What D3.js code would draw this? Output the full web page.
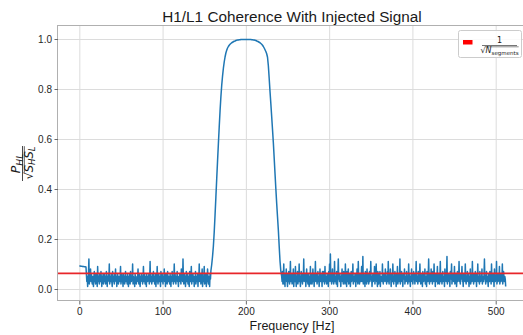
<!DOCTYPE html>
<html lang="en">
<head>
<meta charset="utf-8">
<title>H1/L1 Coherence With Injected Signal</title>
<script src="https://cdn.jsdelivr.net/npm/d3@7"></script>
<style>
  body { margin: 0; background: #fff; }
  svg { font-family: "Liberation Sans", Arial, sans-serif; display: block; }
</style>
</head>
<body>
<svg id="chart"></svg>
<script>
// coherence values; each band has its own start and bin width (Hz)
const leadStart = 0, leadStep = 1;   // 0 .. 8 Hz
const leadBand = [0.092, 0.092, 0.091, 0.091, 0.090, 0.090, 0.089, 0.089, 0.088];

const lowStart = 9, lowStep = 0.5;   // 9 .. 157.5 Hz
const lowBand = [
  0.03,0.05,0.01,0.04,0.06,0.12,0.02,0.05,0.04,0.08,0.03,0.06,0.04,0.02,0.05,0.03,0.01,0.05,0.07,0.03,
  0.04,0.02,0.06,0.03,0.05,0.01,0.09,0.04,0.03,0.05,0.02,0.06,0.04,0.03,0.07,0.04,0.01,0.05,0.03,0.06,
  0.02,0.04,0.06,0.03,0.05,0.02,0.04,0.07,0.04,0.01,0.05,0.03,0.06,0.04,0.10,0.02,0.04,0.05,0.03,0.06,
  0.03,0.01,0.07,0.04,0.03,0.05,0.02,0.06,0.04,0.08,0.03,0.05,0.01,0.04,0.06,0.03,0.02,0.05,0.04,0.03,
  0.05,0.09,0.02,0.04,0.06,0.03,0.04,0.01,0.06,0.04,0.05,0.02,0.04,0.07,0.03,0.05,0.04,0.02,0.06,0.03,
  0.01,0.05,0.04,0.06,0.02,0.07,0.04,0.03,0.05,0.04,0.10,0.02,0.05,0.03,0.04,0.01,0.06,0.04,0.05,0.02,
  0.04,0.03,0.05,0.08,0.04,0.02,0.06,0.04,0.01,0.05,0.03,0.06,0.04,0.05,0.02,0.04,0.09,0.03,0.04,0.06,
  0.02,0.05,0.04,0.01,0.06,0.04,0.03,0.05,0.04,0.06,0.02,0.04,0.11,0.03,0.05,0.04,0.02,0.06,0.04,0.03,
  0.07,0.04,0.05,0.02,0.04,0.06,0.01,0.05,0.03,0.09,0.04,0.02,0.04,0.06,0.03,0.05,0.04,0.01,0.07,0.04,
  0.03,0.06,0.04,0.02,0.05,0.04,0.08,0.03,0.05,0.01,0.06,0.04,0.05,0.02,0.07,0.04,0.03,0.05,0.04,0.02,
  0.06,0.04,0.01,0.05,0.03,0.07,0.04,0.05,0.02,0.04,0.10,0.03,0.06,0.04,0.02,0.05,0.04,0.07,0.03,0.04,
  0.01,0.05,0.04,0.06,0.03,0.04,0.02,0.08,0.04,0.05,0.03,0.12,0.04,0.02,0.06,0.04,0.05,0.01,0.04,0.07,
  0.03,0.04,0.06,0.02,0.05,0.04,0.01,0.07,0.04,0.03,0.05,0.09,0.02,0.04,0.04,0.06,0.03,0.05,0.01,0.04,
  0.04,0.07,0.02,0.05,0.03,0.04,0.06,0.01,0.05,0.04,0.10,0.03,0.04,0.06,0.02,0.05,0.04,0.08,0.01,0.04,
  0.03,0.05,0.09,0.02,0.04,0.04,0.06,0.01,0.05,0.03,0.08,0.04,0.02,0.05,0.03,0.01,0.06,0.04
];

const signalStart = 158, signalStep = 1;   // 158 .. 242 Hz
const signalBand = [
  0.072, 0.098, 0.131, 0.172, 0.228, 0.296, 0.368, 0.441, 0.512, 0.581,
  0.648, 0.712, 0.768, 0.815, 0.852, 0.883, 0.908, 0.928, 0.944, 0.955,
  0.964, 0.970, 0.975, 0.979, 0.982, 0.985, 0.987, 0.989, 0.991, 0.992,
  0.994, 0.995, 0.996, 0.996, 0.997, 0.997, 0.998,
  0.998, 0.998, 0.998, 0.998, 0.998, 0.998, 0.998, 0.998, 0.998, 0.998, 0.998,
  0.998, 0.997, 0.997, 0.996, 0.996, 0.995, 0.994, 0.992, 0.991, 0.989,
  0.987, 0.985, 0.982, 0.979, 0.975, 0.970, 0.964, 0.957, 0.950, 0.941,
  0.927, 0.893, 0.843, 0.790, 0.741, 0.690, 0.638, 0.585, 0.524, 0.462,
  0.401, 0.343, 0.289, 0.236, 0.172, 0.112, 0.071
];

const highStart = 243, highStep = 0.5;   // 243 .. 512 Hz
const highBand = [
  0.05,0.03,0.07,0.02,0.04,0.10,0.02,0.05,0.01,0.06,0.04,0.08,0.03,0.04,0.01,0.06,0.03,0.07,0.04,0.02,
  0.05,0.11,0.03,0.04,0.06,0.02,0.04,0.04,0.08,0.01,0.04,0.06,0.03,0.09,0.04,0.01,0.05,0.04,0.07,0.02,
  0.04,0.03,0.10,0.03,0.05,0.01,0.04,0.07,0.03,0.05,0.02,0.06,0.04,0.12,0.03,0.04,0.04,0.06,0.01,0.05,
  0.08,0.03,0.05,0.02,0.06,0.04,0.01,0.05,0.03,0.09,0.02,0.04,0.06,0.02,0.04,0.08,0.03,0.05,0.01,0.06,
  0.04,0.11,0.03,0.04,0.06,0.02,0.04,0.07,0.03,0.05,0.01,0.04,0.08,0.03,0.06,0.04,0.05,0.01,0.07,0.04,
  0.03,0.07,0.05,0.02,0.09,0.03,0.05,0.04,0.02,0.06,0.04,0.05,0.01,0.07,0.04,0.10,0.03,0.14,0.04,0.05,
  0.02,0.05,0.08,0.03,0.06,0.02,0.04,0.11,0.03,0.05,0.04,0.02,0.07,0.04,0.01,0.06,0.12,0.04,0.05,0.03,
  0.06,0.04,0.01,0.05,0.04,0.08,0.03,0.05,0.02,0.07,0.04,0.06,0.02,0.10,0.04,0.05,0.01,0.07,0.04,0.03,
  0.08,0.02,0.05,0.04,0.06,0.01,0.04,0.07,0.03,0.05,0.04,0.10,0.02,0.05,0.04,0.03,0.06,0.04,0.01,0.06,
  0.03,0.08,0.04,0.02,0.11,0.04,0.05,0.02,0.06,0.04,0.03,0.05,0.09,0.03,0.04,0.13,0.02,0.06,0.04,0.05,
  0.01,0.07,0.04,0.05,0.02,0.08,0.04,0.03,0.06,0.02,0.04,0.07,0.03,0.04,0.11,0.04,0.05,0.01,0.04,0.06,
  0.03,0.05,0.04,0.09,0.02,0.05,0.04,0.10,0.03,0.04,0.01,0.07,0.04,0.02,0.06,0.04,0.07,0.01,0.05,0.04,
  0.05,0.03,0.10,0.04,0.02,0.06,0.04,0.05,0.03,0.08,0.04,0.05,0.02,0.04,0.07,0.03,0.11,0.04,0.02,0.06,
  0.04,0.08,0.04,0.01,0.06,0.04,0.03,0.10,0.04,0.02,0.05,0.04,0.07,0.03,0.04,0.01,0.06,0.04,0.09,0.02,
  0.04,0.06,0.03,0.05,0.12,0.02,0.04,0.04,0.07,0.03,0.05,0.01,0.06,0.04,0.04,0.08,0.02,0.05,0.04,0.03,
  0.07,0.04,0.05,0.02,0.04,0.10,0.03,0.06,0.04,0.01,0.05,0.04,0.08,0.03,0.06,0.02,0.04,0.07,0.04,0.05,
  0.02,0.06,0.04,0.11,0.03,0.04,0.05,0.02,0.07,0.04,0.03,0.05,0.10,0.04,0.02,0.06,0.04,0.05,0.01,0.07,
  0.04,0.03,0.06,0.04,0.08,0.02,0.05,0.04,0.01,0.07,0.04,0.03,0.05,0.12,0.04,0.02,0.06,0.04,0.03,0.08,
  0.04,0.05,0.02,0.07,0.04,0.03,0.10,0.04,0.05,0.01,0.06,0.04,0.03,0.05,0.09,0.02,0.04,0.06,0.04,0.02,
  0.05,0.11,0.03,0.04,0.06,0.02,0.04,0.07,0.04,0.03,0.05,0.01,0.08,0.04,0.05,0.03,0.06,0.13,0.02,0.04,
  0.04,0.06,0.03,0.05,0.01,0.07,0.04,0.04,0.10,0.02,0.05,0.04,0.06,0.03,0.04,0.09,0.02,0.05,0.04,0.06,
  0.01,0.04,0.07,0.03,0.05,0.04,0.11,0.03,0.04,0.02,0.06,0.04,0.05,0.09,0.03,0.04,0.01,0.06,0.04,0.05,
  0.03,0.10,0.04,0.02,0.05,0.04,0.07,0.03,0.06,0.04,0.01,0.05,0.04,0.08,0.02,0.04,0.06,0.03,0.11,0.04,
  0.05,0.02,0.06,0.04,0.03,0.07,0.04,0.05,0.01,0.06,0.04,0.10,0.03,0.05,0.04,0.02,0.07,0.04,0.03,0.05,
  0.04,0.08,0.02,0.05,0.04,0.03,0.06,0.12,0.04,0.05,0.02,0.04,0.07,0.03,0.05,0.04,0.01,0.06,0.04,0.03,
  0.07,0.04,0.05,0.02,0.10,0.04,0.03,0.06,0.04,0.05,0.01,0.08,0.04,0.03,0.05,0.04,0.11,0.02,0.04,0.06,
  0.03,0.05,0.04,0.09,0.02,0.04,0.06,0.03,0.05,0.04,0.10,0.02,0.04,0.07,0.04,0.03,0.05,0.04,0.01
];

const xTicks = [0, 100, 200, 300, 400, 500];
const yTicks = [0.0, 0.2, 0.4, 0.6, 0.8, 1.0];
const nSegments = 256;

const W = 523, H = 335;
const margins = { left: 58, top: 26, right: -4, bottom: 34 };
const plotW = W - margins.left - margins.right;   // runs past the right edge, like the cropped figure
const plotH = H - margins.top - margins.bottom;

const svg = d3.select("#chart").attr("width", W).attr("height", H);

// flatten the bands into (freq, value) points
const bands = [
  [leadStart, leadStep, leadBand],
  [lowStart, lowStep, lowBand],
  [signalStart, signalStep, signalBand],
  [highStart, highStep, highBand]
];
const points = [];
bands.forEach(([start, step, vals]) => vals.forEach((v, i) => points.push({ f: start + i * step, c: v })));

const xScale = d3.scaleLinear().domain([-25.6, 537.6]).range([margins.left, margins.left + plotW]);
const yScale = d3.scaleLinear().domain([-0.048, 1.052]).range([margins.top + plotH, margins.top]);

// grid
const gx = svg.append("g")
  .attr("transform", "translate(0," + (margins.top + plotH) + ")")
  .call(d3.axisBottom(xScale).tickValues(xTicks).tickSize(-plotH).tickFormat(""));
const gy = svg.append("g")
  .attr("transform", "translate(" + margins.left + ",0)")
  .call(d3.axisLeft(yScale).tickValues(yTicks).tickSize(-plotW).tickFormat(""));
[gx, gy].forEach(g => {
  g.select(".domain").remove();
  g.selectAll("line").attr("stroke", "#dcdcdc").attr("stroke-width", 1);
});

svg.append("clipPath").attr("id", "plot-clip")
  .append("rect").attr("x", margins.left).attr("y", margins.top).attr("width", plotW).attr("height", plotH);

const line = d3.line().x(d => xScale(d.f)).y(d => yScale(d.c));
svg.append("path")
  .datum(points)
  .attr("clip-path", "url(#plot-clip)")
  .attr("d", line)
  .attr("fill", "none")
  .attr("stroke", "#1f77b4")
  .attr("stroke-width", 1.5)
  .attr("stroke-linejoin", "round");

// 1/sqrt(N) reference line
const threshold = 1 / Math.sqrt(nSegments);
svg.append("line")
  .attr("x1", margins.left).attr("x2", margins.left + plotW)
  .attr("y1", yScale(threshold)).attr("y2", yScale(threshold))
  .attr("stroke", "#e8262a").attr("stroke-width", 1.6);

// frame
svg.append("rect")
  .attr("x", margins.left - 0.5).attr("y", margins.top - 0.5)
  .attr("width", plotW).attr("height", plotH)
  .attr("fill", "none").attr("stroke", "#b0b0b0").attr("stroke-width", 1);

// axes
const xAxis = svg.append("g")
  .attr("transform", "translate(0," + (margins.top + plotH) + ")")
  .call(d3.axisBottom(xScale).tickValues(xTicks).tickSize(3.5).tickPadding(3.5).tickFormat(d3.format("d")));
const yAxis = svg.append("g")
  .attr("transform", "translate(" + margins.left + ",0)")
  .call(d3.axisLeft(yScale).tickValues(yTicks).tickSize(3.5).tickPadding(2.5).tickFormat(d3.format(".1f")));
[xAxis, yAxis].forEach(g => {
  g.select(".domain").remove();
  g.selectAll("line").attr("stroke", "#6a6a6a");
  g.selectAll("text").attr("fill", "#262626").style("font-size", "10px")
    .style("font-family", "'Liberation Sans', Arial, sans-serif");
});

// title and x label
svg.append("text")
  .attr("x", 292).attr("y", 22)
  .attr("text-anchor", "middle")
  .style("font-size", "15.3px").attr("fill", "#1a1a1a")
  .text("H1/L1 Coherence With Injected Signal");

svg.append("text")
  .attr("x", 292).attr("y", 329.5)
  .attr("text-anchor", "middle")
  .style("font-size", "12.5px").attr("fill", "#1a1a1a")
  .text("Frequency [Hz]");

// y label: P_HL / sqrt(S_H S_L), rotated
const mathFont = "'DejaVu Sans', sans-serif";
const yl = svg.append("g")
  .attr("transform", "translate(22.5," + (margins.top + plotH / 2) + ") rotate(-90)")
  .attr("fill", "#1a1a1a")
  .style("font-family", mathFont)
  .style("font-style", "italic");
const num = yl.append("text").attr("x", 0).attr("y", -2.5).attr("text-anchor", "middle").style("font-size", "12.5px");
num.append("tspan").text("P");
num.append("tspan").attr("dy", 2.5).style("font-size", "9px").text("HL");
yl.append("line").attr("x1", -17.5).attr("x2", 17.5).attr("y1", 0).attr("y2", 0)
  .attr("stroke", "#1a1a1a").attr("stroke-width", 0.8);
const den = yl.append("text").attr("x", 0.5).attr("y", 10).attr("text-anchor", "middle").style("font-size", "11.5px");
den.append("tspan").style("font-style", "normal").text("\u221A");
den.append("tspan").text("S");
den.append("tspan").attr("dy", 2).style("font-size", "8.5px").text("H");
den.append("tspan").attr("dy", -2).text("S");
den.append("tspan").attr("dy", 2).style("font-size", "8.5px").text("L");
const denBox = den.node().getBBox();
const rootW = den.select("tspan").node().getComputedTextLength();
yl.append("line")
  .attr("x1", denBox.x + rootW - 0.5).attr("x2", denBox.x + denBox.width)
  .attr("y1", 1.8).attr("y2", 1.8)
  .attr("stroke", "#1a1a1a").attr("stroke-width", 0.7);

// legend
const legend = svg.append("g");
legend.append("rect")
  .attr("x", 458.5).attr("y", 30.5).attr("width", 63).attr("height", 27).attr("rx", 2)
  .attr("fill", "#fff").attr("fill-opacity", 0.85)
  .attr("stroke", "#cccccc").attr("stroke-width", 1);
legend.append("rect")
  .attr("x", 463).attr("y", 40).attr("width", 9.5).attr("height", 4.5)
  .attr("fill", "#ff0000");
legend.append("text")
  .attr("x", 499.5).attr("y", 43).attr("text-anchor", "middle")
  .style("font-family", mathFont).style("font-size", "8px").attr("fill", "#1a1a1a")
  .text("1");
legend.append("line").attr("x1", 482).attr("x2", 517).attr("y1", 45.5).attr("y2", 45.5)
  .attr("stroke", "#1a1a1a").attr("stroke-width", 0.6);
const lden = legend.append("text")
  .attr("x", 499.5).attr("y", 53).attr("text-anchor", "middle")
  .style("font-family", mathFont).style("font-size", "8px").attr("fill", "#1a1a1a");
lden.append("tspan").text("\u221A");
lden.append("tspan").style("font-style", "italic").text("N");
lden.append("tspan").attr("dy", 1.5).style("font-size", "5.5px").text("segments");
const ldBox = lden.node().getBBox();
const lRootW = lden.select("tspan").node().getComputedTextLength();
legend.append("line")
  .attr("x1", ldBox.x + lRootW - 0.4).attr("x2", ldBox.x + ldBox.width)
  .attr("y1", 46.8).attr("y2", 46.8)
  .attr("stroke", "#1a1a1a").attr("stroke-width", 0.5);
</script>
</body>
</html>
